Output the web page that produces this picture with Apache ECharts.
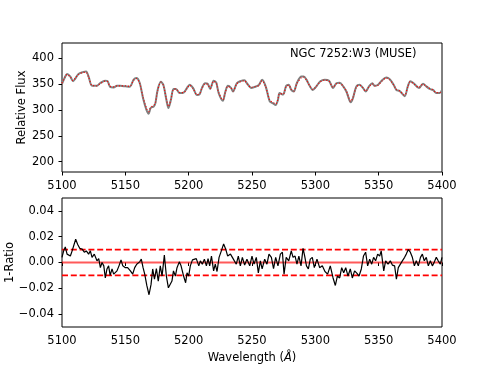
<!DOCTYPE html>
<html>
<head>
<meta charset="utf-8">
<script src="https://cdn.jsdelivr.net/npm/echarts@6/dist/echarts.min.js"></script>
<style>
  html, body { margin: 0; padding: 0; background: #fff; }
  #chart { width: 491px; height: 367px; }
</style>
</head>
<body>
<div id="chart"></div>
<script>
// spectrum (top panel)
const specWave = [5100, 5102.6, 5104, 5106.6, 5108.7, 5110.5, 5113, 5117, 5119, 5121, 5123.7, 5127.6, 5130, 5134, 5136, 5138, 5140.8, 5143.4, 5146, 5150, 5153.4, 5156.6, 5158.7, 5161.3, 5164, 5166.6, 5168.4, 5170, 5172.4, 5173.7, 5175.5, 5178, 5180, 5182.4, 5184, 5186, 5188, 5190, 5192.9, 5196, 5198.7, 5200.8, 5203.4, 5206.6, 5208.7, 5210.5, 5213, 5215, 5217, 5219.7, 5221.8, 5223.7, 5227, 5229, 5231, 5233.4, 5235, 5238, 5240.8, 5244, 5246, 5249.5, 5253.4, 5255.5, 5258, 5260.8, 5264, 5266.6, 5268.7, 5270.5, 5271.8, 5274.5, 5277, 5279, 5281, 5283, 5285.5, 5289, 5290.8, 5293, 5295.5, 5298, 5300.8, 5304, 5307.4, 5310.8, 5314, 5316.6, 5319.2, 5322, 5324.5, 5328, 5329.7, 5332.4, 5335, 5337.6, 5339.7, 5342.4, 5345, 5346.8, 5349.5, 5352, 5356, 5358.7, 5361.8, 5364, 5366.6, 5370.5, 5373, 5375, 5377.6, 5381.8, 5385, 5387.6, 5390.3, 5392.9, 5395.5, 5398.2, 5400]
const specFlux = [351, 365, 370, 365, 356, 361, 370, 374, 375, 365, 347, 347, 352, 357, 356, 345, 344, 347, 347, 346, 345, 359, 362, 353, 323, 301, 293, 304, 307, 313, 339, 355, 349, 320, 304, 320, 341, 341, 333, 334, 343, 349, 343, 329, 331, 343, 352, 351, 341, 357, 353, 333, 318, 336, 347, 343, 336, 352, 356, 358, 352, 343, 346, 349, 359, 346, 317, 313, 310, 320, 333, 330, 347, 349, 339, 336, 353, 365, 365, 359, 347, 339, 346, 356, 359, 357, 343, 352, 353, 346, 336, 315, 323, 346, 349, 343, 336, 346, 352, 347, 349, 356, 363, 360, 349, 339, 337, 327, 346, 356, 352, 343, 351, 346, 341, 339, 333, 333, 339]
const specModel = [352, 366, 369, 364, 357, 362, 369, 373, 373, 364, 348, 347, 351, 356, 355, 346, 345, 347, 347, 347, 346, 358, 361, 352, 325, 304, 297, 305, 309, 314, 338, 354, 348, 322, 307, 321, 340, 341, 334, 334, 342, 348, 342, 330, 332, 342, 351, 350, 342, 356, 352, 334, 320, 335, 346, 343, 337, 351, 355, 357, 351, 344, 346, 348, 357, 345, 319, 315, 312, 321, 332, 331, 346, 348, 340, 337, 352, 363, 364, 358, 347, 340, 346, 355, 358, 356, 344, 351, 352, 346, 337, 317, 324, 345, 348, 343, 337, 345, 351, 347, 348, 355, 362, 359, 349, 340, 337, 329, 345, 355, 351, 344, 350, 346, 342, 339, 334, 334, 338]

// residuals (bottom panel)
const resWave = [5100, 5101.3, 5102.6, 5104, 5105.3, 5106.6, 5108, 5109.2, 5110.8, 5112.4, 5114, 5115.8, 5117.6, 5119.2, 5121, 5122.4, 5123.7, 5125.5, 5127.6, 5129, 5130.3, 5131.6, 5133, 5134.2, 5135.5, 5136.8, 5138, 5139.5, 5140.8, 5142, 5143.4, 5145, 5146.6, 5148, 5150, 5151.8, 5154, 5155.8, 5157.4, 5159, 5161.3, 5162.6, 5164, 5165.3, 5167, 5168.7, 5170.3, 5171.6, 5173, 5174.5, 5176, 5177.6, 5179, 5180.8, 5182.4, 5184, 5185.5, 5186.8, 5188, 5189.5, 5190.8, 5192.6, 5194, 5196, 5197.6, 5198.7, 5200, 5201.3, 5203, 5204.5, 5206, 5208, 5209.2, 5210.8, 5212.4, 5214, 5215.3, 5216.6, 5218, 5219.7, 5221, 5222.4, 5224, 5225.8, 5227.6, 5229.2, 5230.8, 5233, 5234.5, 5236, 5237.6, 5239.2, 5240.8, 5242.4, 5244.2, 5246, 5248.2, 5250, 5251.6, 5253.4, 5255, 5256.6, 5258, 5260, 5261.8, 5263.4, 5265.3, 5267, 5268.7, 5270.5, 5272.4, 5274, 5275.3, 5277, 5279, 5281, 5282.4, 5284, 5285.5, 5287, 5288.7, 5290.3, 5291.6, 5293, 5294.5, 5296, 5297.6, 5299.2, 5301.3, 5303.4, 5305.5, 5307.6, 5309.7, 5311.8, 5314, 5315.8, 5317.4, 5319.2, 5320.8, 5322.4, 5324, 5325.8, 5327.6, 5329.2, 5331, 5332.9, 5334.5, 5336.3, 5338, 5339.7, 5341.3, 5342.9, 5344.5, 5346, 5347.6, 5349.2, 5350.8, 5352, 5354, 5355.5, 5357.4, 5359.2, 5360.8, 5362.6, 5364, 5365.5, 5367, 5368.7, 5370.5, 5371.8, 5373.4, 5375, 5376.6, 5378.2, 5379.7, 5381.3, 5383, 5384.5, 5386, 5387.6, 5389.2, 5390.8, 5392.4, 5394, 5395.5, 5397, 5398.7, 5400]
const resVal = [0.004, 0.009, 0.012, 0.0065, 0.008, 0.005, 0.009, 0.008, 0.018, 0.014, 0.011, 0.0105, 0.008, 0.009, 0.0065, 0.009, 0.004, 0.0065, 0.0013, 0.003, -0.004, 0, -0.0026, -0.012, -0.005, -0.0026, -0.01, -0.005, -0.009, -0.0105, -0.0065, -0.0026, 0.002, -0.0026, -0.004, -0.004, -0.0065, -0.009, -0.004, -0.0013, 0.0005, 0.0026, -0.004, -0.009, -0.018, -0.025, -0.017, -0.005, -0.013, -0.0047, -0.0144, -0.0026, -0.0105, 0.0057, -0.0105, -0.0196, -0.021, -0.0144, -0.0065, -0.0105, -0.004, 0.0005, -0.0026, -0.0105, -0.0157, -0.008, -0.0105, -0.0026, 0.002, 0.003, 0.003, -0.0026, 0.0013, -0.0013, 0.0026, -0.0026, 0.003, -0.0026, 0.005, -0.0065, -0.0013, -0.007, 0.004, 0.009, 0.0144, 0.0105, 0.005, 0.0065, 0.004, 0.005, -0.0013, 0.005, -0.0026, 0.004, -0.002, 0.0026, -0.0026, 0.005, -0.0013, 0.004, -0.008, 0.0013, -0.005, 0.0026, -0.0013, 0.0065, 0.004, -0.0047, 0.004, -0.0026, 0.0065, 0.008, -0.009, 0.004, 0.0013, 0.009, 0.004, 0.005, -0.0013, 0.005, -0.0026, 0.011, 0.005, -0.0026, -0.005, 0.0026, 0.004, -0.004, 0.0026, -0.004, -0.0026, -0.007, -0.009, -0.0026, -0.012, -0.0178, -0.0105, -0.012, -0.004, -0.008, -0.004, -0.0105, -0.005, -0.012, -0.0065, -0.0084, -0.0105, -0.005, 0.005, 0.008, -0.0026, 0.0026, -0.0013, 0.004, 0.0013, 0.0065, 0.005, 0.009, -0.0065, 0.0013, -0.0013, 0.0013, -0.002, -0.0026, -0.013, -0.004, -0.005, 0.0013, 0.004, 0.0065, 0.01, 0.008, 0.004, -0.0026, 0.0013, -0.0026, 0.004, 0.0065, 0.0013, 0.004, -0.0026, 0.0013, -0.0026, 0.0005, 0.004, 0.0013, -0.0013, 0.004]

// reference levels and ticks
const xRange = [5100, 5400]
const zeroLevel = 0
const bandLevel = 0.01
const fluxTicks = [200, 250, 300, 350, 400]
const ratioTicks = [-0.04, -0.02, 0.0, 0.02, 0.04]

const FONT = 'DejaVu Sans'
const FS = 11.5

const zip = (xs, ys) => xs.map((x, i) => [x, ys[i]])
const fmtRatio = (v) => v.toFixed(2).replace('-', '\u2212')

const chart = echarts.init(document.getElementById('chart'))

function xAxisCfg(idx, withName) {
  return {
    type: 'value',
    gridIndex: idx,
    min: xRange[0],
    max: xRange[1],
    interval: 50,
    axisLine: { show: false },
    axisTick: { show: true, length: 3.5, lineStyle: { color: '#000', width: 1 } },
    axisLabel: { color: '#000', fontFamily: FONT, fontSize: FS, margin: 8, formatter: (v) => String(v) },
    splitLine: { show: false },
    name: withName ? 'Wavelength ({i|Å})' : '',
    nameLocation: 'middle',
    nameGap: 25,
    nameMoveOverlap: false,
    nameTextStyle: {
      color: '#000', fontFamily: FONT, fontSize: FS,
      rich: { i: { fontStyle: 'italic', fontFamily: FONT, fontSize: FS, color: '#000' } },
    },
  }
}

chart.setOption({
  animation: false,
  backgroundColor: '#fff',
  grid: [
    { left: 62, right: 49, top: 43, height: 129, outerBoundsMode: 'none', containLabel: false, show: true, borderColor: '#000', borderWidth: 1, backgroundColor: 'transparent' },
    { left: 62, right: 49, top: 198, height: 129, outerBoundsMode: 'none', containLabel: false, show: true, borderColor: '#000', borderWidth: 1, backgroundColor: 'transparent' },
  ],
  xAxis: [xAxisCfg(0, false), xAxisCfg(1, true)],
  yAxis: [
    {
      type: 'value',
      gridIndex: 0,
      min: 180,
      max: 430,
      axisLine: { show: false },
      axisTick: { show: true, length: 3.5, customValues: fluxTicks, lineStyle: { color: '#000', width: 1 } },
      axisLabel: { color: '#000', fontFamily: FONT, fontSize: FS, margin: 8, customValues: fluxTicks },
      splitLine: { show: false },
      name: 'Relative Flux',
      nameLocation: 'middle',
      nameRotate: 90,
      nameGap: 34,
      nameMoveOverlap: false,
      nameTextStyle: { color: '#000', fontFamily: FONT, fontSize: FS },
    },
    {
      type: 'value',
      gridIndex: 1,
      min: -0.05,
      max: 0.05,
      axisLine: { show: false },
      axisTick: { show: true, length: 3.5, customValues: ratioTicks, lineStyle: { color: '#000', width: 1 } },
      axisLabel: { color: '#000', fontFamily: FONT, fontSize: FS, margin: 8, customValues: ratioTicks, formatter: fmtRatio },
      splitLine: { show: false },
      name: '1-Ratio',
      nameLocation: 'middle',
      nameRotate: 90,
      nameGap: 46,
      nameMoveOverlap: false,
      nameTextStyle: { color: '#000', fontFamily: FONT, fontSize: FS },
    },
  ],
  graphic: [
    {
      type: 'text',
      left: 290,
      top: 48,
      style: { text: 'NGC 7252:W3 (MUSE)', fill: '#000', font: `${FS}px "${FONT}"` },
    },
  ],
  series: [
    {
      name: 'data',
      type: 'line',
      xAxisIndex: 0,
      yAxisIndex: 0,
      data: zip(specWave, specFlux),
      smooth: 0.3,
      symbol: 'none',
      lineStyle: { color: '#808080', width: 2 },
    },
    {
      name: 'model',
      type: 'line',
      xAxisIndex: 0,
      yAxisIndex: 0,
      data: zip(specWave, specModel),
      smooth: 0.3,
      symbol: 'none',
      lineStyle: { color: '#ff0000', width: 1.2, type: [1, 2] },
    },
    {
      name: 'zero',
      type: 'line',
      xAxisIndex: 1,
      yAxisIndex: 1,
      data: [[xRange[0], zeroLevel], [xRange[1], zeroLevel]],
      symbol: 'none',
      lineStyle: { color: '#ff0000', width: 2, opacity: 0.65 },
    },
    {
      name: 'upper',
      type: 'line',
      xAxisIndex: 1,
      yAxisIndex: 1,
      data: [[xRange[0], bandLevel], [xRange[1], bandLevel]],
      symbol: 'none',
      lineStyle: { color: '#ff0000', width: 1.7, type: [6, 2.8] },
    },
    {
      name: 'lower',
      type: 'line',
      xAxisIndex: 1,
      yAxisIndex: 1,
      data: [[xRange[0], -bandLevel], [xRange[1], -bandLevel]],
      symbol: 'none',
      lineStyle: { color: '#ff0000', width: 1.7, type: [6, 2.8] },
    },
    {
      name: 'residual',
      type: 'line',
      xAxisIndex: 1,
      yAxisIndex: 1,
      data: zip(resWave, resVal),
      symbol: 'none',
      lineStyle: { color: '#000', width: 1.2 },
    },
  ],
})

window.addEventListener('resize', () => chart.resize())
</script>
</body>
</html>
